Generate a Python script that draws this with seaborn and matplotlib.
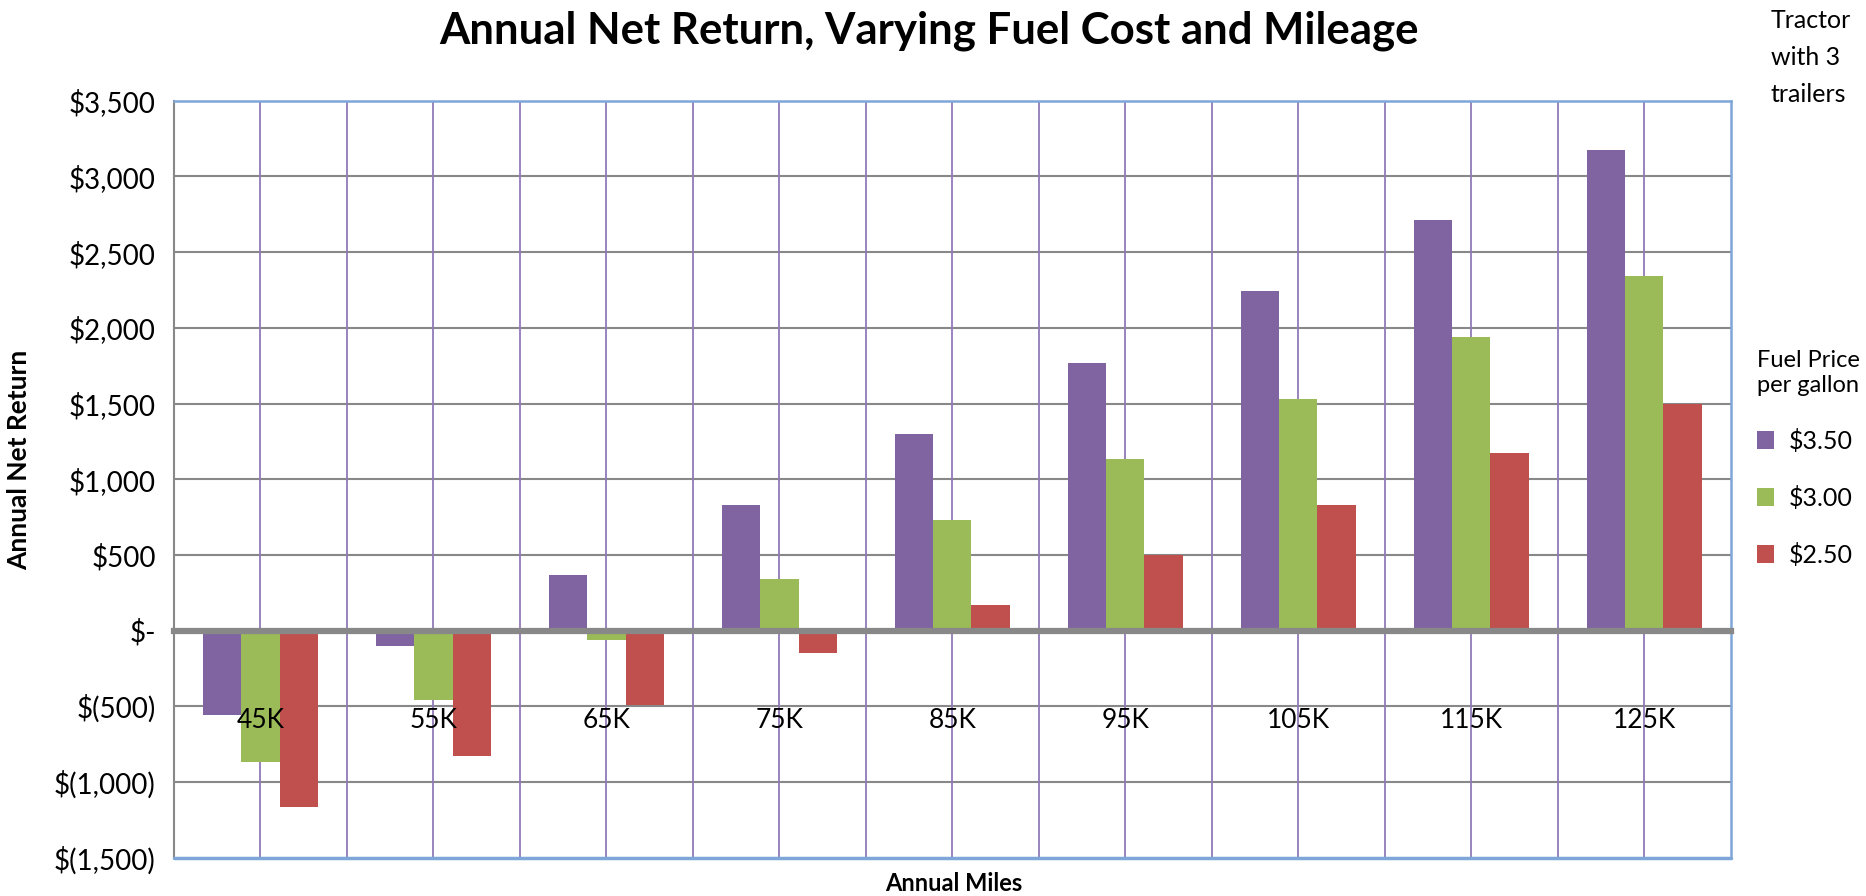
import matplotlib
matplotlib.use("Agg")
import matplotlib.pyplot as plt
from matplotlib.ticker import FuncFormatter, MultipleLocator
import seaborn as sns
import pandas as pd

# values
miles = ["45K", "55K", "65K", "75K", "85K", "95K", "105K", "115K", "125K"]
prices = ["$3.50", "$3.00", "$2.50"]
ret_350 = [-560, -100, 370, 830, 1300, 1770, 2240, 2710, 3175]
ret_300 = [-865, -460, -60, 340, 730, 1135, 1530, 1940, 2340]
ret_250 = [-1165, -830, -490, -150, 170, 500, 830, 1175, 1500]

colors = ["#8064A2", "#9BBB59", "#C0504D"]
grid_gray = "#888888"
grid_purple = "#9179b8"
edge_blue = "#7EA6D8"

df = pd.DataFrame({
    "Annual Miles": miles * 3,
    "Return": ret_350 + ret_300 + ret_250,
    "Fuel": [prices[0]] * 9 + [prices[1]] * 9 + [prices[2]] * 9,
})

sns.set_style("white")
plt.rcParams["font.family"] = ["Lato", "DejaVu Sans"]
plt.rcParams["text.color"] = "black"
plt.rcParams["axes.labelcolor"] = "black"

fig = plt.figure(figsize=(18.66, 8.96), dpi=100)
ax = fig.add_axes([0.0932, 0.0427, 0.8343, 0.8449])

sns.barplot(data=df, x="Annual Miles", y="Return", hue="Fuel", order=miles,
            hue_order=prices, palette=colors, width=0.665, saturation=1,
            edgecolor="none", ax=ax, zorder=3)

ax.set_xlim(-0.5, len(miles) - 0.5)
ax.set_ylim(-1500, 3500)

# gridlines
for y in range(-1000, 3500, 500):
    if y != 0:
        ax.axhline(y, color=grid_gray, lw=1.5, zorder=1)
for x in [i * 0.5 - 0.5 for i in range(1, 2 * len(miles))]:
    ax.axvline(x, color=grid_purple, lw=1.3, zorder=1)

# frame
for s in ["top", "right"]:
    ax.spines[s].set_color(edge_blue)
    ax.spines[s].set_linewidth(1.8)
ax.spines["left"].set_color(grid_gray)
ax.spines["left"].set_linewidth(1.5)
ax.spines["bottom"].set_position(("data", 0))
ax.spines["bottom"].set_color(grid_gray)
ax.spines["bottom"].set_linewidth(4.5)
ax.spines["bottom"].set_zorder(4)
ax.axhline(-1500, color=edge_blue, lw=2.5, zorder=5, clip_on=False)

ax.set_xticks([i - 0.5 for i in range(len(miles) + 1)])
ax.set_xticklabels([])
ax.tick_params(axis="x", which="major", direction="out", length=7, width=4,
               color=grid_gray)

def money(v, pos):
    v = int(round(v))
    if v == 0:
        return "$-"
    if v < 0:
        return "$({:,})".format(-v)
    return "${:,}".format(v)

ax.yaxis.set_major_locator(MultipleLocator(500))
ax.yaxis.set_major_formatter(FuncFormatter(money))
ax.tick_params(axis="y", direction="out", length=9, width=1.5, color=grid_gray,
               labelsize=20, pad=4, labelcolor="black")

# category labels sit below the zero line, as in the source
for i, m in enumerate(miles):
    ax.text(i, -595, m, ha="center", va="center", fontsize=19, color="black",
            zorder=6)

ax.set_xlabel("")
ax.set_ylabel("Annual Net Return", fontsize=19, fontweight="bold")
ax.yaxis.set_label_coords(-0.092, 0.525)
fig.text(0.511, 0.014, "Annual Miles", ha="center", va="center", fontsize=17,
         fontweight="bold")

fig.suptitle("Annual Net Return, Varying Fuel Cost and Mileage", x=0.498,
             y=0.988, fontsize=31.5, fontweight="bold", va="top")

fig.text(0.949, 0.99, "Tractor\nwith 3\ntrailers", ha="left", va="top",
         fontsize=18, linespacing=1.75)

sns.move_legend(ax, "upper left", bbox_to_anchor=(0.936, 0.62),
                bbox_transform=fig.transFigure, frameon=False,
                title="Fuel Price\nper gallon", title_fontsize=17, fontsize=18,
                alignment="left", handlelength=0.7, handleheight=0.7,
                labelspacing=1.32, handletextpad=0.6, borderaxespad=0)

fig.savefig("out.png", dpi=100)
